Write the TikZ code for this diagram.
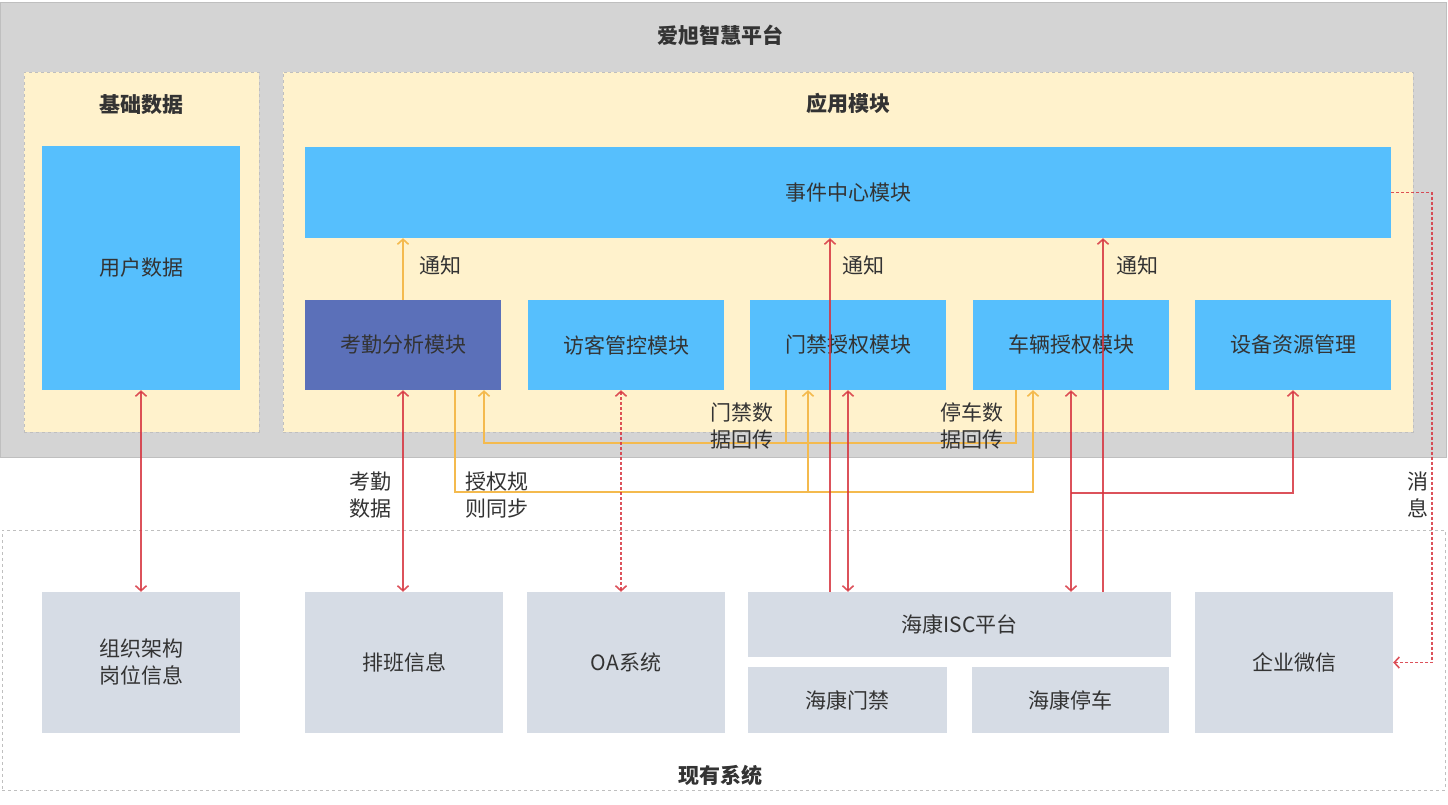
\documentclass[tikz,border=0pt]{standalone}
\usepackage{fontspec}
\setmainfont{Noto Sans CJK SC}
\usetikzlibrary{arrows.meta,calc}
\definecolor{pgray}{HTML}{D4D4D4}
\definecolor{pyel}{HTML}{FFF2CC}
\definecolor{pblue}{HTML}{56BFFD}
\definecolor{ppurp}{HTML}{5B70B9}
\definecolor{pbox}{HTML}{D6DCE5}
\definecolor{txt}{HTML}{333333}
\definecolor{rline}{HTML}{D7343F}
\definecolor{oline}{HTML}{F4BA4E}
\definecolor{bord}{HTML}{BFBFBF}
\begin{document}
\begin{tikzpicture}[x=1pt,y=-1pt,
  base/.style={rectangle,inner sep=0pt,align=center,text=txt,font=\fontsize{21}{27}\selectfont},
  panel/.style={base,draw=bord,dashed,line width=0.6pt,fill=pyel},
  blu/.style={base,fill=pblue},
  pur/.style={base,fill=ppurp},
  sys/.style={base,fill=pbox},
  ttl/.style={base,font=\fontsize{21}{27}\selectfont\bfseries},
  lbl/.style={base,font=\fontsize{21}{27}\selectfont},
  rarr/.style={draw=rline,line width=1.6pt,draw opacity=0.85,arrows={-Straight Barb[length=5pt,width=11pt]}},
  rdbl/.style={draw=rline,line width=1.6pt,draw opacity=0.85,arrows={Straight Barb[length=5pt,width=11pt]-Straight Barb[length=5pt,width=11pt]}},
  oarr/.style={draw=oline,line width=1.6pt,arrows={-Straight Barb[length=5pt,width=11pt]}},
  oln/.style={draw=oline,line width=1.6pt}
]
\useasboundingbox (0,0) rectangle (1448,804);
\fill[white] (0,0) rectangle (1448,804);
% platform
\node[base,fill=pgray,draw=bord,line width=0.5pt,minimum width=1446pt,minimum height=455pt] (plat) at (723.5,229.5) {};
\node[ttl] (platt) at (720,35) {爱旭智慧平台};
% existing systems panel
\node[base,draw=bord,dashed,line width=0.8pt,minimum width=1443pt,minimum height=260pt] (exist) at (723.5,660) {};
\node[ttl] (existt) at (720,775) {现有系统};
% base data
\node[panel,minimum width=235pt,minimum height=360pt] (basep) at (141.5,252) {};
\node[ttl] (baset) at (141,105) {基础数据};
\node[blu,minimum width=198pt,minimum height=244pt] (ud) at (141,268) {用户数据};
% app modules
\node[panel,minimum width=1130pt,minimum height=360pt] (appp) at (848,252) {};
\node[ttl] (appt) at (848,103) {应用模块};
\node[blu,minimum width=1086pt,minimum height=91pt] (ev) at (848,192.5) {事件中心模块};
\node[pur,minimum width=196pt,minimum height=90pt] (kq) at (403,345) {考勤分析模块};
\node[blu,minimum width=196pt,minimum height=90pt] (fk) at (626,345) {访客管控模块};
\node[blu,minimum width=196pt,minimum height=90pt] (mj) at (848,345) {门禁授权模块};
\node[blu,minimum width=196pt,minimum height=90pt] (cl) at (1071,345) {车辆授权模块};
\node[blu,minimum width=196pt,minimum height=90pt] (sb) at (1293,345) {设备资源管理};
% existing systems
\node[sys,minimum width=198pt,minimum height=141pt] (org) at (141,662.5) {组织架构\\岗位信息};
\node[sys,minimum width=198pt,minimum height=141pt] (pb) at (404,662.5) {排班信息};
\node[sys,minimum width=198pt,minimum height=141pt] (oa) at (626,662.5) {OA系统};
\node[sys,minimum width=423pt,minimum height=65pt] (isc) at (959.5,624.5) {海康ISC平台};
\node[sys,minimum width=199pt,minimum height=66pt] (hmj) at (847.5,700) {海康门禁};
\node[sys,minimum width=197pt,minimum height=66pt] (htc) at (1070.5,700) {海康停车};
\node[sys,minimum width=198pt,minimum height=141pt] (wx) at (1294,662.5) {企业微信};
% helper coordinates
\coordinate (kqo) at ([xshift=52pt]kq.south);
\coordinate (kqi) at ([xshift=81pt]kq.south);
\coordinate (mjo) at ([xshift=-62pt]mj.south);
\coordinate (mji) at ([xshift=-40pt]mj.south);
\coordinate (clo) at ([xshift=-55pt]cl.south);
\coordinate (cli) at ([xshift=-38pt]cl.south);
\coordinate (fkx) at ([xshift=-5pt]fk.south);
\coordinate (n1) at ([xshift=-18pt]mj.south);
\coordinate (n2) at ([xshift=32pt]cl.south);
\coordinate (br) at ($(cl.south)+(0,103)$);
% orange connectors
\draw[oarr] (kq.north) -- (kq.north |- ev.south);
\draw[oarr] (kqo) -- ++(0,102) -| (cli);
\draw[oarr] ($(mji)+(0,102)$) -- (mji);
\draw[oarr] (clo) -- ++(0,53) -| (kqi);
\draw[oln] (mjo) -- ++(0,53);
% red connectors
\draw[rdbl] (ud.south) -- (org.north);
\draw[rdbl] (kq.south) -- (kq.south |- pb.north);
\draw[rdbl,dash pattern=on 3pt off 2pt] (fkx) -- (fkx |- oa.north);
\draw[rarr] (n1 |- isc.north) -- (n1 |- ev.south);
\draw[rdbl] (mj.south) -- (mj.south |- isc.north);
\draw[rdbl] (cl.south) -- (cl.south |- isc.north);
\draw[rarr] (br) -| (sb.south);
\draw[rarr] (n2 |- isc.north) -- (n2 |- ev.south);
\draw[rarr,dash pattern=on 3pt off 2pt] (ev.east) -- ++(41,0) |- (wx.east);
% labels
\node[lbl] (l1) at (440,265) {通知};
\node[lbl] (l2) at (863,265) {通知};
\node[lbl] (l3) at (1137,265) {通知};
\node[lbl] (l4) at (742,426) {门禁数\\据回传};
\node[lbl] (l5) at (972,426) {停车数\\据回传};
\node[lbl] (l6) at (370,495) {考勤\\数据};
\node[lbl] (l7) at (497,495) {授权规\\则同步};
\node[lbl] (l8) at (1418,495) {消\\息};
\end{tikzpicture}
\end{document}
